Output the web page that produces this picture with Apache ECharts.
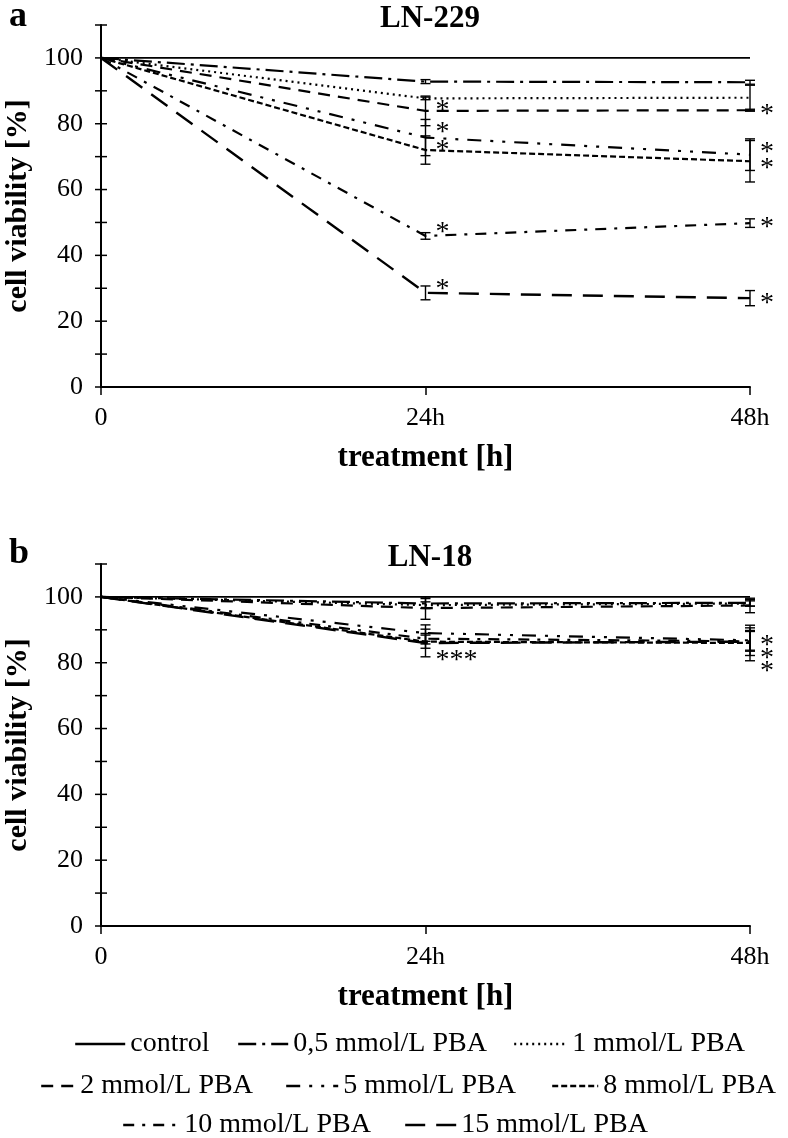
<!DOCTYPE html>
<html><head><meta charset="utf-8">
<script src="https://cdn.jsdelivr.net/npm/echarts@6/dist/echarts.min.js"></script>
<style>html,body{margin:0;padding:0;background:#fff}#c{width:788px;height:1138px}</style>
</head><body><div id="c"></div>
<script>
// ---------- data ----------
const hours = [0, 24, 48];
const xTickLabels = {0: '0', 24: '24h', 48: '48h'};
const yTickLabels = [0, 20, 40, 60, 80, 100];
const yTickValues = [0, 10, 20, 30, 40, 50, 60, 70, 80, 90, 100, 110];
const seriesNames = ['control', '0,5 mmol/L PBA', '1 mmol/L PBA', '2 mmol/L PBA',
  '5 mmol/L PBA', '8 mmol/L PBA', '10 mmol/L PBA', '15 mmol/L PBA'];

// LN-229 (panel a): mean values and error (SD) at 0, 24h, 48h
const a_control = [100, 100, 100];
const a_05 = [100, 92.8, 92.6];
const a_1 = [100, 87.7, 87.9];
const a_2 = [100, 83.9, 84.1];
const a_5 = [100, 75.8, 70.6];
const a_8 = [100, 72.0, 68.6];
const a_10 = [100, 45.9, 49.8];
const a_15 = [100, 28.6, 27.0];
const a_err_control = [0, 0, 0];
const a_err_05 = [0, 0.6, 0.6];
const a_err_1 = [0, 0.4, 3.8];
const a_err_2 = [0, 4.5, 0.3];
const a_err_5 = [0, 5.5, 4.8];
const a_err_8 = [0, 4.3, 6.3];
const a_err_10 = [0, 1.0, 1.3];
const a_err_15 = [0, 2.1, 2.3];
// significance stars (hour, value, text)
const a_stars = [[24, 85.6, '*'], [24, 78.8, '*'], [24, 73.4, '*'], [24, 48.4, '*'], [24, 31.1, '*'],
                 [48, 84.2, '*'], [48, 72.8, '*'], [48, 67.9, '*'], [48, 49.8, '*'], [48, 27.0, '*']];

// LN-18 (panel b)
const b_control = [100, 100, 100];
const b_05 = [100, 98.0, 98.2];
const b_1 = [100, 97.5, 98.0];
const b_2 = [100, 96.6, 97.4];
const b_5 = [100, 89.0, 86.8];
const b_8 = [100, 86.4, 86.0];
const b_10 = [100, 87.3, 86.5];
const b_15 = [100, 86.0, 86.4];
const b_err_control = [0, 0, 0];
const b_err_05 = [0, 1.5, 1.0];
const b_err_1 = [0, 1.0, 0.8];
const b_err_2 = [0, 3.4, 2.2];
const b_err_5 = [0, 2.5, 3.0];
const b_err_8 = [0, 2.0, 5.4];
const b_err_10 = [0, 1.6, 3.0];
const b_err_15 = [0, 4.2, 4.2];
const b_stars = [[24, 82.3, '***'], [48, 82.8, '*\n*\n*']];

// ---------- styles ----------
const dashTypes = ['solid', [18, 6, 3, 6], [2, 4], [12, 8], [14, 9, 3, 9, 3, 9], [6, 3], [11, 8, 3, 8], [20, 11]];
const widths = [1.6, 2.2, 2.2, 2.2, 2.2, 2.2, 2.2, 2.4];
const serif = 'Liberation Serif';

const aVals = [a_control, a_05, a_1, a_2, a_5, a_8, a_10, a_15];
const aErrs = [a_err_control, a_err_05, a_err_1, a_err_2, a_err_5, a_err_8, a_err_10, a_err_15];
const bVals = [b_control, b_05, b_1, b_2, b_5, b_8, b_10, b_15];
const bErrs = [b_err_control, b_err_05, b_err_1, b_err_2, b_err_5, b_err_8, b_err_10, b_err_15];

function lineSeries(vals, gi) {
  return vals.map((v, i) => ({
    type: 'line', name: seriesNames[i], xAxisIndex: gi, yAxisIndex: gi,
    data: hours.map((h, k) => [h, v[k]]), symbol: 'none', showSymbol: false, z: 3,
    lineStyle: {color: '#000', width: widths[i], type: dashTypes[i]},
    itemStyle: {color: '#000'}, animation: false
  }));
}
function errSeries(vals, errs, gi) {
  const d = [];
  vals.forEach((v, i) => hours.forEach((h, k) => { if (errs[i][k] > 0) d.push([h, v[k] - errs[i][k], v[k] + errs[i][k]]); }));
  return {
    type: 'custom', xAxisIndex: gi, yAxisIndex: gi, data: d, z: 4, animation: false, silent: true,
    renderItem(params, api) {
      const x = api.value(0);
      const lo = api.coord([x, api.value(1)]);
      const hi = api.coord([x, api.value(2)]);
      const w = 5;
      const st = {stroke: '#000', lineWidth: 1.4};
      return {type: 'group', children: [
        {type: 'line', shape: {x1: lo[0], y1: lo[1], x2: hi[0], y2: hi[1]}, style: st},
        {type: 'line', shape: {x1: lo[0] - w, y1: lo[1], x2: lo[0] + w, y2: lo[1]}, style: st},
        {type: 'line', shape: {x1: hi[0] - w, y1: hi[1], x2: hi[0] + w, y2: hi[1]}, style: st}
      ]};
    }
  };
}
// crossing y-axis ticks (the axis itself draws the outer half only)
function innerTickSeries(gi) {
  return {
    type: 'custom', xAxisIndex: gi, yAxisIndex: gi, data: yTickValues.map(v => [0, v, v]), z: 6,
    animation: false, silent: true, clip: false,
    renderItem(params, api) {
      const p = api.coord([0, api.value(1)]);
      const st = {stroke: '#000', lineWidth: 1.5};
      return {type: 'group', children: [
        {type: 'line', shape: {x1: p[0] - 6, y1: p[1], x2: p[0] + 6, y2: p[1]}, style: st}
      ]};
    }
  };
}
function starSeries(stars, gi, dx) {
  return {
    type: 'custom', xAxisIndex: gi, yAxisIndex: gi, data: stars, z: 5, animation: false, silent: true,
    renderItem(params, api) {
      const p = api.coord([api.value(0), api.value(1)]);
      const s = stars[params.dataIndex][2];
      return {type: 'text', x: p[0] + dx, y: p[1] + 5, style: {
        text: s, fill: '#000', font: '28px "' + serif + '"', align: 'left', verticalAlign: 'middle', lineHeight: 13
      }};
    }
  };
}

function xAxisOf(gi) {
  return {type: 'value', gridIndex: gi, min: 0, max: 48, interval: 24,
    axisLine: {lineStyle: {color: '#000', width: 2}},
    axisTick: {show: true, inside: false, length: 8, lineStyle: {color: '#000', width: 1.5}},
    splitLine: {show: false},
    axisLabel: {color: '#000', fontFamily: serif, fontSize: 26, margin: 18, formatter: v => xTickLabels[v] || ''},
    name: 'treatment [h]', nameLocation: 'middle', nameGap: 55,
    nameTextStyle: {color: '#000', fontFamily: serif, fontWeight: 'bold', fontSize: 31}};
}
function yAxisOf(gi) {
  return {type: 'value', gridIndex: gi, position: 'left', min: 0, max: 110, interval: 10,
    axisLine: {show: true, lineStyle: {color: '#000', width: 2}},
    axisTick: {show: false},
    splitLine: {show: false},
    axisLabel: {color: '#000', fontFamily: serif, fontSize: 26, margin: 18,
      formatter: v => yTickLabels.indexOf(v) >= 0 ? String(v) : ''},
    name: 'cell viability [%]', nameLocation: 'middle', nameGap: 65, nameRotate: 90,
    nameTextStyle: {color: '#000', fontFamily: serif, fontWeight: 'bold', fontSize: 30}};
}

const legendItems = [
  // [name index, left, center y, icon width]
  [0, 74, 1046, 50], [1, 237, 1046, 50], [2, 513, 1046, 53],
  [3, 40, 1088, 34], [4, 285, 1088, 52], [5, 551, 1088, 46],
  [6, 122, 1127, 56], [7, 404, 1127, 51]
];
const legends = legendItems.map(([i, left, cy, w]) => ({
  data: [seriesNames[i]], left: left, top: cy - 16, itemWidth: w, itemHeight: 14, itemGap: 0,
  selectedMode: false, padding: 0,
  textStyle: {color: '#000', fontFamily: serif, fontSize: 28},
  itemStyle: {color: 'rgba(0,0,0,0)', borderWidth: 0, opacity: 0},
  lineStyle: {width: 2.4, color: '#000', opacity: 1}
}));

const option = {
  backgroundColor: '#fff',
  animation: false,
  title: [
    {text: 'a', left: 4, top: -6, textStyle: {fontFamily: serif, fontWeight: 'bold', fontSize: 36, color: '#000'}},
    {text: 'LN-229', left: 425, top: -2, textAlign: 'center', textStyle: {fontFamily: serif, fontWeight: 'bold', fontSize: 31, color: '#000'}},
    {text: 'b', left: 4, top: 531, textStyle: {fontFamily: serif, fontWeight: 'bold', fontSize: 36, color: '#000'}},
    {text: 'LN-18', left: 425, top: 537, textAlign: 'center', textStyle: {fontFamily: serif, fontWeight: 'bold', fontSize: 31, color: '#000'}}
  ],
  legend: legends,
  grid: [
    {left: 101, width: 649, top: 25, height: 362, outerBoundsMode: 'none', containLabel: false},
    {left: 101, width: 649, top: 564, height: 362, outerBoundsMode: 'none', containLabel: false}
  ],
  xAxis: [xAxisOf(0), xAxisOf(1)],
  yAxis: [yAxisOf(0), yAxisOf(1)],
  series: [
    ...lineSeries(aVals, 0), errSeries(aVals, aErrs, 0), starSeries(a_stars, 0, 10), innerTickSeries(0),
    ...lineSeries(bVals, 1), errSeries(bVals, bErrs, 1), starSeries(b_stars, 1, 10), innerTickSeries(1)
  ]
};
const chart = echarts.init(document.getElementById('c'), null, {renderer: 'canvas'});
chart.setOption(option);
</script>
</body></html>
